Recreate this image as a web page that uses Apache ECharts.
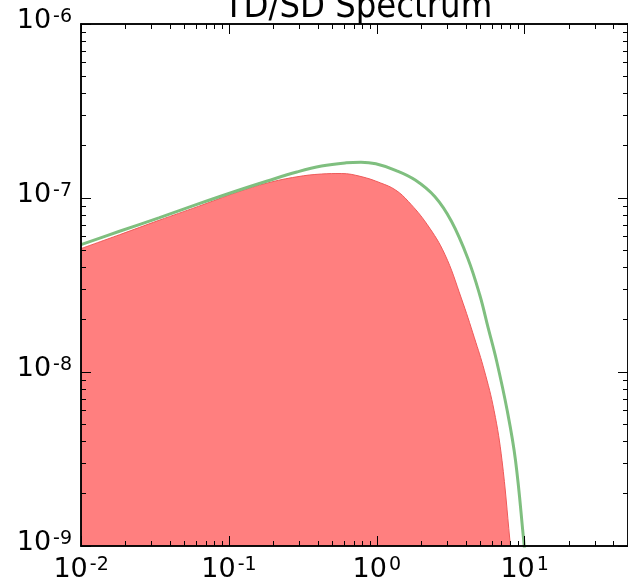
<!DOCTYPE html>
<html><head><meta charset="utf-8">
<script src="https://cdn.jsdelivr.net/npm/echarts@6/dist/echarts.min.js"></script>
<style>html,body{margin:0;padding:0;background:#fff}#c{width:628px;height:583px}</style>
</head><body><div id="c"></div>
<script>
// ---- data ----
const titleText = 'TD/SD Spectrum';
const greenX = [0.01, 0.0182, 0.0336, 0.0621, 0.1148, 0.182, 0.288, 0.423, 0.621, 0.782, 0.985, 1.339, 1.82, 2.474, 3.197, 4.124, 4.972, 5.666, 6.457, 7.621, 8.67, 9.848, 10.31];
const greenY = [5.40e-8, 6.44e-8, 7.69e-8, 9.25e-8, 1.105e-7, 1.253e-7, 1.411e-7, 1.527e-7, 1.594e-7, 1.607e-7, 1.574e-7, 1.444e-7, 1.269e-7, 1.017e-7, 7.35e-8, 4.51e-8, 2.77e-8, 1.793e-8, 1.16e-8, 6.0e-9, 3.11e-9, 1.082e-9, 7.1e-10];
const redX = [0.01, 0.0182, 0.0336, 0.0621, 0.1148, 0.182, 0.288, 0.423, 0.575, 0.782, 1.063, 1.339, 1.634, 2.188, 2.884, 3.727, 4.571, 5.33, 6.213, 7.025, 7.943, 8.318];
const redY = [5.12e-8, 6.15e-8, 7.44e-8, 8.95e-8, 1.083e-7, 1.22e-7, 1.324e-7, 1.374e-7, 1.383e-7, 1.329e-7, 1.22e-7, 1.112e-7, 9.56e-8, 7.06e-8, 4.75e-8, 2.66e-8, 1.572e-8, 1.024e-8, 6.0e-9, 3.11e-9, 1.082e-9, 7.1e-10];
const xMajorTicks = [0.01, 0.1, 1, 10];
const xMinorTicks = [0.02, 0.03, 0.04, 0.05, 0.06, 0.07, 0.08, 0.09, 0.2, 0.3, 0.4, 0.5, 0.6, 0.7, 0.8, 0.9, 2, 3, 4, 5, 6, 7, 8, 9, 20, 30, 40, 50];
const yMajorTicks = [1e-9, 1e-8, 1e-7, 1e-6];
const yMinorTicks = [2e-9, 3e-9, 4e-9, 5e-9, 6e-9, 7e-9, 8e-9, 9e-9, 2e-8, 3e-8, 4e-8, 5e-8, 6e-8, 7e-8, 8e-8, 9e-8, 2e-7, 3e-7, 4e-7, 5e-7, 6e-7, 7e-7, 8e-7, 9e-7];
const xMin = 0.00999, xMax = 50, yMin = 9.99e-10, yMax = 1.001e-6;

const FONT = '"DejaVu Sans", sans-serif';
const TITLE_FONT = '"DejaVu Sans Condensed", "DejaVu Sans", sans-serif';
const chart = echarts.init(document.getElementById('c'));

function fmt(v) {
  const e = Math.round(Math.log10(v));
  return '{b|10}{s|' + e + '}';
}
const rich = {
  b: { fontSize: 27, fontFamily: FONT, color: '#000' },
  s: { fontSize: 19, fontFamily: FONT, color: '#000', verticalAlign: 'top', padding: [0, 0, 0, 2] }
};
const spine = { show: true, onZero: false, lineStyle: { color: '#000', width: 1.5 } };

function xAx(pos, ticks, len, labels) {
  return {
    type: 'log', position: pos, min: xMin, max: xMax, z: 10,
    axisLine: spine,
    splitLine: { show: false },
    axisTick: { show: true, inside: true, length: len, customValues: ticks, lineStyle: { color: '#000', width: 1 } },
    axisLabel: labels ? { show: true, customValues: xMajorTicks, formatter: fmt, rich: rich, margin: 10 } : { show: false }
  };
}
function yAx(pos, ticks, len, labels) {
  return {
    type: 'log', position: pos, min: yMin, max: yMax, z: 10,
    axisLine: spine,
    splitLine: { show: false },
    axisTick: { show: true, inside: true, length: len, customValues: ticks, lineStyle: { color: '#000', width: 1 } },
    axisLabel: labels ? { show: true, customValues: yMajorTicks, formatter: fmt, rich: rich, margin: 9, padding: [0, 0, 6, 0] } : { show: false }
  };
}

chart.setOption({
  animation: false,
  backgroundColor: '#fff',
  grid: { left: 81, top: 24, width: 555, height: 525 },
  graphic: [{
    type: 'text', x: 358, y: 26, z: 100,
    style: { text: titleText, font: '36px ' + TITLE_FONT, fill: '#000', textAlign: 'center', textVerticalAlign: 'bottom' }
  }],
  xAxis: [
    xAx('bottom', xMajorTicks, 10, true),
    xAx('bottom', xMinorTicks, 5, false),
    xAx('top', xMajorTicks, 10, false),
    xAx('top', xMinorTicks, 5, false)
  ],
  yAxis: [
    yAx('left', yMajorTicks, 10, true),
    yAx('left', yMinorTicks, 5, false),
    yAx('right', yMajorTicks, 10, false),
    yAx('right', yMinorTicks, 5, false)
  ],
  series: [
    {
      type: 'line', name: 'SD', xAxisIndex: 0, yAxisIndex: 0,
      data: redX.map((x, i) => [x, redY[i]]),
      showSymbol: false, smooth: 0.4, clip: true,
      lineStyle: { color: '#ee5a5a', width: 1 },
      areaStyle: { color: '#ff7f7f', opacity: 1, origin: 'start' },
      z: 2
    },
    {
      type: 'line', name: 'TD', xAxisIndex: 0, yAxisIndex: 0,
      data: greenX.map((x, i) => [x, greenY[i]]),
      showSymbol: false, smooth: 0.4, clip: true,
      lineStyle: { color: '#7fbf7f', width: 3 },
      z: 3
    }
  ]
});
</script>
</body></html>
